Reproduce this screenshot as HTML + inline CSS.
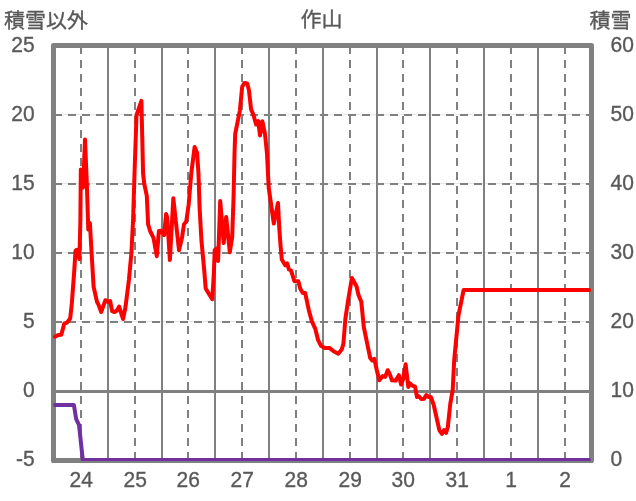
<!DOCTYPE html>
<html lang="ja"><head><meta charset="utf-8"><title>作山</title>
<style>
html,body{margin:0;padding:0;background:#fff;}
body{width:636px;height:501px;overflow:hidden;}
svg{display:block;will-change:transform;}
text{font-family:"Liberation Sans","Noto Sans CJK JP",sans-serif;fill:#595959;stroke:#595959;stroke-width:0.35px;}
.n{font-size:22px;}
.j{font-size:20.2px;}
</style></head><body>
<svg width="636" height="501" viewBox="0 0 636 501">
<rect width="636" height="501" fill="#fff"/>
<line x1="53.5" x2="591.5" y1="114.6" y2="114.6" stroke="#dcdcdc" stroke-width="0.8"/>
<line x1="54" x2="591.5" y1="115" y2="115" stroke="#808080" stroke-width="2" stroke-dasharray="8 6"/>
<line x1="53.5" x2="591.5" y1="183.6" y2="183.6" stroke="#dcdcdc" stroke-width="0.8"/>
<line x1="54" x2="591.5" y1="184" y2="184" stroke="#808080" stroke-width="2" stroke-dasharray="8 6"/>
<line x1="53.5" x2="591.5" y1="252.6" y2="252.6" stroke="#dcdcdc" stroke-width="0.8"/>
<line x1="54" x2="591.5" y1="253" y2="253" stroke="#808080" stroke-width="2" stroke-dasharray="8 6"/>
<line x1="53.5" x2="591.5" y1="321.6" y2="321.6" stroke="#dcdcdc" stroke-width="0.8"/>
<line x1="54" x2="591.5" y1="322" y2="322" stroke="#808080" stroke-width="2" stroke-dasharray="8 6"/>
<line x1="53.5" x2="591.5" y1="391.5" y2="391.5" stroke="#808080" stroke-width="3"/>
<line x1="81" x2="81" y1="46" y2="460.5" stroke="#808080" stroke-width="2" stroke-dasharray="8 6"/>
<line x1="108" x2="108" y1="45.5" y2="460.5" stroke="#808080" stroke-width="2"/>
<line x1="135" x2="135" y1="46" y2="460.5" stroke="#808080" stroke-width="2" stroke-dasharray="8 6"/>
<line x1="162" x2="162" y1="45.5" y2="460.5" stroke="#808080" stroke-width="2"/>
<line x1="188" x2="188" y1="46" y2="460.5" stroke="#808080" stroke-width="2" stroke-dasharray="8 6"/>
<line x1="215" x2="215" y1="45.5" y2="460.5" stroke="#808080" stroke-width="2"/>
<line x1="242" x2="242" y1="46" y2="460.5" stroke="#808080" stroke-width="2" stroke-dasharray="8 6"/>
<line x1="269" x2="269" y1="45.5" y2="460.5" stroke="#808080" stroke-width="2"/>
<line x1="296" x2="296" y1="46" y2="460.5" stroke="#808080" stroke-width="2" stroke-dasharray="8 6"/>
<line x1="323" x2="323" y1="45.5" y2="460.5" stroke="#808080" stroke-width="2"/>
<line x1="350" x2="350" y1="46" y2="460.5" stroke="#808080" stroke-width="2" stroke-dasharray="8 6"/>
<line x1="377" x2="377" y1="45.5" y2="460.5" stroke="#808080" stroke-width="2"/>
<line x1="403" x2="403" y1="46" y2="460.5" stroke="#808080" stroke-width="2" stroke-dasharray="8 6"/>
<line x1="430" x2="430" y1="45.5" y2="460.5" stroke="#808080" stroke-width="2"/>
<line x1="457" x2="457" y1="46" y2="460.5" stroke="#808080" stroke-width="2" stroke-dasharray="8 6"/>
<line x1="484" x2="484" y1="45.5" y2="460.5" stroke="#808080" stroke-width="2"/>
<line x1="511" x2="511" y1="46" y2="460.5" stroke="#808080" stroke-width="2" stroke-dasharray="8 6"/>
<line x1="538" x2="538" y1="45.5" y2="460.5" stroke="#808080" stroke-width="2"/>
<line x1="565" x2="565" y1="46" y2="460.5" stroke="#808080" stroke-width="2" stroke-dasharray="8 6"/>
<rect x="53.5" y="45.5" width="538.00" height="415.00" fill="none" stroke="#808080" stroke-width="5" stroke-linejoin="round"/>
<polyline points="55.1,405.0 73.9,405.0 76.2,419.2 79.0,424.8 82.8,460.0 589.0,460.0" fill="none" stroke="#7030a0" stroke-width="4" stroke-linejoin="round" stroke-linecap="round"/>
<line x1="52" x2="593" y1="462" y2="462" stroke="#808080" stroke-width="2"/>
<polyline points="55.0,336.6 58.3,335.0 61.3,334.8 64.3,323.6 67.0,322.6 70.2,318.5 71.8,303.6 74.3,270.0 75.5,250.6 76.8,249.8 79.4,259.0 80.4,219.6 80.8,169.5 83.1,187.5 85.0,139.5 86.7,180.0 88.3,229.6 89.9,222.9 91.6,253.1 93.6,286.8 97.0,301.9 98.7,305.2 101.2,312.0 105.4,300.2 107.9,301.9 110.1,301.0 112.1,311.1 114.6,312.0 117.1,310.3 119.1,306.6 123.0,319.0 125.5,307.0 128.9,280.0 131.4,253.1 133.1,219.6 134.5,174.0 136.5,115.2 141.4,100.9 143.1,174.0 144.3,184.0 146.8,195.8 148.1,224.3 150.1,231.0 153.5,237.8 156.8,256.2 158.9,231.0 161.0,230.7 164.1,235.2 166.1,213.9 167.2,217.6 169.9,260.0 173.3,198.3 179.0,250.3 182.0,237.8 184.0,224.3 186.2,221.8 188.7,204.2 191.2,174.0 194.6,147.0 197.1,152.9 198.5,174.0 199.6,207.6 201.4,240.0 204.2,270.0 205.7,288.5 208.8,293.6 212.3,299.2 213.9,272.0 214.7,250.1 216.4,248.5 218.1,261.0 220.2,201.0 223.7,243.0 226.2,216.9 229.8,252.3 232.2,237.0 233.6,196.0 234.5,154.0 235.2,133.8 239.9,110.3 242.2,86.8 244.4,83.1 247.2,83.4 248.9,90.1 251.1,109.4 253.3,114.5 256.1,124.5 258.3,121.2 260.0,135.4 262.3,121.2 265.0,133.8 267.0,153.9 268.7,187.6 273.8,223.6 278.0,203.0 279.3,228.4 280.5,245.2 281.8,259.4 285.2,265.3 287.2,263.3 288.9,269.5 291.0,270.3 294.4,281.2 298.3,281.2 300.3,288.8 302.8,293.0 305.2,293.0 308.8,310.2 311.8,321.1 315.2,328.6 318.2,340.4 321.0,345.7 324.4,347.9 329.4,347.9 333.6,351.3 338.3,353.8 341.7,349.6 343.4,343.7 345.4,318.6 347.9,301.8 351.9,277.9 356.5,286.3 358.5,295.0 361.3,301.8 363.8,327.0 367.2,343.7 370.2,358.0 372.2,360.5 374.3,358.8 376.8,370.2 379.3,380.3 382.7,376.1 385.2,376.9 387.7,370.2 389.9,374.4 391.9,380.3 395.6,380.6 398.9,375.2 401.1,384.5 403.3,378.6 405.6,364.3 408.3,387.0 410.0,383.3 412.3,385.6 415.0,386.6 417.0,397.0 418.7,396.2 421.2,399.0 424.1,398.7 426.3,395.0 428.5,397.0 430.8,397.0 433.6,404.5 436.8,418.7 439.4,430.4 441.9,433.8 444.1,430.1 446.1,432.9 447.8,427.0 450.3,403.6 452.7,390.2 454.2,360.0 455.3,348.4 458.5,315.3 463.6,290.0 589.2,290.0" fill="none" stroke="#ff0000" stroke-width="4" stroke-linejoin="round" stroke-linecap="round"/>
<text class="n" transform="translate(34.6,52.4) scale(0.955,1)" text-anchor="end">25</text>
<text class="n" transform="translate(34.6,121.4) scale(0.955,1)" text-anchor="end">20</text>
<text class="n" transform="translate(34.6,190.4) scale(0.955,1)" text-anchor="end">15</text>
<text class="n" transform="translate(34.6,259.4) scale(0.955,1)" text-anchor="end">10</text>
<text class="n" transform="translate(34.6,328.4) scale(0.955,1)" text-anchor="end">5</text>
<text class="n" transform="translate(34.6,397.4) scale(0.955,1)" text-anchor="end">0</text>
<text class="n" transform="translate(34.6,466.4) scale(0.955,1)" text-anchor="end">-5</text>
<text class="n" transform="translate(610.6,52.4) scale(0.955,1)" text-anchor="start">60</text>
<text class="n" transform="translate(610.6,121.4) scale(0.955,1)" text-anchor="start">50</text>
<text class="n" transform="translate(610.6,190.4) scale(0.955,1)" text-anchor="start">40</text>
<text class="n" transform="translate(610.6,259.4) scale(0.955,1)" text-anchor="start">30</text>
<text class="n" transform="translate(610.6,328.4) scale(0.955,1)" text-anchor="start">20</text>
<text class="n" transform="translate(610.6,397.4) scale(0.955,1)" text-anchor="start">10</text>
<text class="n" transform="translate(610.6,466.4) scale(0.955,1)" text-anchor="start">0</text>
<text class="n" transform="translate(81.2,487.1) scale(0.955,1)" text-anchor="middle">24</text>
<text class="n" transform="translate(135.2,487.1) scale(0.955,1)" text-anchor="middle">25</text>
<text class="n" transform="translate(188.2,487.1) scale(0.955,1)" text-anchor="middle">26</text>
<text class="n" transform="translate(242.2,487.1) scale(0.955,1)" text-anchor="middle">27</text>
<text class="n" transform="translate(296.2,487.1) scale(0.955,1)" text-anchor="middle">28</text>
<text class="n" transform="translate(350.2,487.1) scale(0.955,1)" text-anchor="middle">29</text>
<text class="n" transform="translate(403.2,487.1) scale(0.955,1)" text-anchor="middle">30</text>
<text class="n" transform="translate(457.2,487.1) scale(0.955,1)" text-anchor="middle">31</text>
<text class="n" transform="translate(511.2,487.1) scale(0.955,1)" text-anchor="middle">1</text>
<text class="n" transform="translate(565.2,487.1) scale(0.955,1)" text-anchor="middle">2</text>
<text class="j" transform="translate(4.1,28.0) scale(1.04,1)">積雪以外</text>
<text class="j" transform="translate(321.6,27.3) scale(1.04,1)" text-anchor="middle">作山</text>
<text class="j" transform="translate(589.4,28.0) scale(1.04,1)">積雪</text>
</svg></body></html>
